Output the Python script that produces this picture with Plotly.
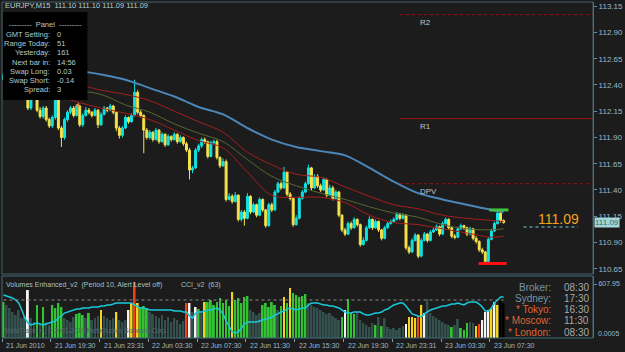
import plotly.graph_objects as go

# ---------------- data ----------------
symbol_title = "EURJPY,M15  111.10 111.10 111.09 111.09"
bars = list(range(165))

opens = [112.45, 112.50, 112.56, 112.45, 112.40, 112.47, 112.37, 112.33, 112.40, 112.18,
         112.28, 112.30, 112.16, 112.10, 112.18, 112.07, 112.01, 112.09, 112.26, 111.99,
         111.90, 112.07, 112.14, 112.18, 112.11, 112.20, 112.02, 112.11, 112.16, 112.14,
         112.11, 112.16, 112.02, 112.12, 112.18, 112.16, 112.20, 112.14, 111.99, 111.92,
         111.99, 112.09, 112.05, 112.11, 112.33, 112.14, 112.11, 111.97, 111.90, 111.95,
         111.88, 111.97, 111.86, 111.93, 111.83, 111.91, 111.88, 111.93, 111.86, 111.90,
         111.84, 111.78, 111.59, 111.61, 111.78, 111.82, 111.88, 111.86, 111.72, 111.85,
         111.86, 111.71, 111.63, 111.67, 111.31, 111.34, 111.29, 111.35, 111.12, 111.19,
         111.13, 111.34, 111.19, 111.26, 111.16, 111.31, 111.21, 111.06, 111.26, 111.21,
         111.38, 111.46, 111.42, 111.57, 111.36, 111.32, 111.07, 111.13, 111.32, 111.38,
         111.46, 111.61, 111.42, 111.53, 111.44, 111.40, 111.50, 111.35, 111.42, 111.32,
         111.38, 111.16, 111.02, 110.98, 111.08, 111.04, 111.12, 111.07, 110.88, 110.92,
         111.04, 111.12, 111.04, 111.10, 111.02, 110.94, 111.04, 111.08, 111.10, 111.12,
         111.17, 111.13, 111.16, 110.85, 110.81, 110.92, 110.97, 110.77, 110.92, 110.98,
         110.92, 111.00, 111.02, 111.05, 110.98, 111.08, 111.12, 111.04, 110.96, 110.95,
         111.03, 111.06, 111.04, 110.98, 111.03, 110.94, 110.91, 110.83, 110.81, 110.72,
         110.93, 111.01, 111.08, 111.18, 111.11]

highs = [112.53, 112.58, 112.57, 112.47, 112.49, 112.48, 112.40, 112.42, 112.41, 112.31,
         112.33, 112.31, 112.19, 112.20, 112.20, 112.09, 112.11, 112.28, 112.27, 112.01,
         112.09, 112.16, 112.20, 112.20, 112.22, 112.21, 112.13, 112.19, 112.18, 112.15,
         112.18, 112.17, 112.14, 112.20, 112.19, 112.22, 112.21, 112.15, 112.01, 112.01,
         112.11, 112.10, 112.13, 112.45, 112.35, 112.16, 112.12, 111.99, 111.97, 111.96,
         111.99, 111.98, 111.95, 111.94, 111.93, 111.92, 111.95, 111.94, 111.92, 111.91,
         111.86, 111.80, 111.63, 111.80, 111.84, 111.90, 111.90, 111.87, 111.87, 111.88,
         111.88, 111.72, 111.70, 111.69, 111.37, 111.36, 111.38, 111.36, 111.21, 111.21,
         111.37, 111.35, 111.28, 111.27, 111.33, 111.32, 111.22, 111.28, 111.28, 111.40,
         111.48, 111.48, 111.62, 111.58, 111.38, 111.33, 111.16, 111.34, 111.40, 111.48,
         111.64, 111.62, 111.55, 111.55, 111.46, 111.52, 111.51, 111.45, 111.44, 111.40,
         111.39, 111.17, 111.04, 111.10, 111.10, 111.14, 111.13, 111.08, 110.95, 111.06,
         111.15, 111.13, 111.12, 111.11, 111.03, 111.06, 111.10, 111.12, 111.14, 111.19,
         111.18, 111.18, 111.17, 110.87, 110.94, 110.99, 110.98, 110.94, 111.00, 110.99,
         111.02, 111.04, 111.07, 111.06, 111.10, 111.14, 111.13, 111.05, 110.98, 111.05,
         111.08, 111.07, 111.05, 111.05, 111.04, 110.96, 110.92, 110.85, 110.82, 110.95,
         111.03, 111.10, 111.21, 111.19, 111.12]

lows = [112.43, 112.48, 112.43, 112.38, 112.39, 112.35, 112.31, 112.32, 112.16, 112.16,
        112.26, 112.14, 112.08, 112.08, 112.05, 111.99, 111.99, 112.07, 111.97, 111.81,
        111.88, 112.05, 112.12, 112.09, 112.10, 112.00, 112.00, 112.10, 112.12, 112.09,
        112.10, 111.99, 112.01, 112.11, 112.14, 112.15, 112.12, 111.96, 111.89, 111.90,
        111.98, 112.03, 112.04, 112.10, 112.12, 112.09, 111.75, 111.88, 111.88, 111.86,
        111.87, 111.84, 111.85, 111.81, 111.82, 111.86, 111.87, 111.84, 111.85, 111.82,
        111.76, 111.50, 111.56, 111.60, 111.76, 111.80, 111.84, 111.70, 111.71, 111.83,
        111.69, 111.61, 111.62, 111.29, 111.30, 111.27, 111.28, 111.10, 111.10, 111.06,
        111.12, 111.17, 111.18, 111.14, 111.15, 111.19, 111.04, 111.05, 111.19, 111.20,
        111.37, 111.40, 111.41, 111.34, 111.30, 111.05, 111.06, 111.12, 111.31, 111.37,
        111.45, 111.40, 111.41, 111.42, 111.38, 111.39, 111.33, 111.34, 111.30, 111.31,
        111.14, 111.00, 110.96, 110.97, 111.02, 111.03, 111.05, 110.86, 110.87, 110.91,
        111.03, 111.02, 111.03, 111.00, 110.92, 110.93, 111.03, 111.07, 111.09, 111.11,
        111.11, 111.12, 110.83, 110.79, 110.80, 110.91, 110.75, 110.76, 110.91, 110.90,
        110.91, 110.99, 111.01, 110.96, 110.97, 111.07, 111.02, 110.94, 110.93, 110.94,
        111.02, 111.02, 110.96, 110.97, 110.92, 110.89, 110.81, 110.79, 110.71, 110.70,
        110.92, 111.00, 111.07, 111.09, 111.08]

closes = [112.50, 112.56, 112.45, 112.40, 112.47, 112.37, 112.33, 112.40, 112.18, 112.28,
          112.30, 112.16, 112.10, 112.18, 112.07, 112.01, 112.09, 112.26, 111.99, 111.90,
          112.07, 112.14, 112.18, 112.11, 112.20, 112.02, 112.11, 112.16, 112.14, 112.11,
          112.16, 112.02, 112.12, 112.18, 112.16, 112.20, 112.14, 111.99, 111.92, 111.99,
          112.09, 112.05, 112.11, 112.33, 112.14, 112.11, 111.97, 111.90, 111.95, 111.88,
          111.97, 111.86, 111.93, 111.83, 111.91, 111.88, 111.93, 111.86, 111.90, 111.84,
          111.78, 111.59, 111.61, 111.78, 111.82, 111.88, 111.86, 111.72, 111.85, 111.86,
          111.71, 111.63, 111.67, 111.31, 111.34, 111.29, 111.35, 111.12, 111.19, 111.13,
          111.34, 111.19, 111.26, 111.16, 111.31, 111.21, 111.06, 111.26, 111.21, 111.38,
          111.46, 111.42, 111.57, 111.36, 111.32, 111.07, 111.13, 111.32, 111.38, 111.46,
          111.61, 111.42, 111.53, 111.44, 111.40, 111.50, 111.35, 111.42, 111.32, 111.38,
          111.16, 111.02, 110.98, 111.08, 111.04, 111.12, 111.07, 110.88, 110.92, 111.04,
          111.12, 111.04, 111.10, 111.02, 110.94, 111.04, 111.08, 111.10, 111.12, 111.17,
          111.13, 111.16, 110.85, 110.81, 110.92, 110.97, 110.77, 110.92, 110.98, 110.92,
          111.00, 111.02, 111.05, 110.98, 111.08, 111.12, 111.04, 110.96, 110.95, 111.03,
          111.06, 111.04, 110.98, 111.03, 110.94, 110.91, 110.83, 110.81, 110.72, 110.93,
          111.01, 111.08, 111.18, 111.11, 111.09]

# moving averages (sampled every 8 bars)
ma_idx = [0, 8, 16, 24, 32, 40, 48, 56, 64, 72, 80, 88, 96, 104, 112, 120, 128, 136, 144, 152, 160, 164]
ma_blue = [112.72, 112.66, 112.60, 112.54, 112.50, 112.45, 112.37, 112.29, 112.19, 112.12, 111.99,
           111.88, 111.81, 111.77, 111.73, 111.61, 111.48, 111.37, 111.31, 111.26, 111.21, 111.19]
env_upper = [112.54, 112.50, 112.46, 112.41, 112.35, 112.31, 112.25, 112.15, 112.05, 111.95, 111.76,
             111.64, 111.55, 111.52, 111.43, 111.34, 111.26, 111.22, 111.16, 111.13, 111.11, 111.10]
env_mid = [112.47, 112.43, 112.39, 112.35, 112.31, 112.21, 112.14, 112.03, 111.94, 111.86, 111.69,
           111.53, 111.44, 111.37, 111.31, 111.24, 111.18, 111.14, 111.07, 111.03, 111.02, 111.03]
env_lower = [112.40, 112.35, 112.31, 112.24, 112.18, 112.13, 112.07, 111.97, 111.87, 111.80, 111.57,
             111.35, 111.33, 111.33, 111.28, 111.16, 111.09, 111.07, 111.03, 110.99, 110.95, 110.96]

# pivot levels
pivot_names = ["R2", "R1", "DPV"]
pivot_values = [113.07, 112.08, 111.46]
pivot_start = 130
day_high = 111.21
day_low = 110.70
last_price = 111.09

# volumes and colour class (g=grey, G=green, Y=yellow, W=white, R=red)
volumes = [405, 372, 338, 293, 259, 315, 225, 248, 540, 225,
           180, 372, 158, 349, 180, 146, 372, 338, 394, 349,
           225, 203, 180, 236, 270, 282, 259, 225, 282, 203,
           225, 248, 315, 248, 225, 203, 225, 293, 203, 180,
           203, 315, 394, 631, 394, 349, 360, 338, 293, 270,
           248, 225, 259, 203, 236, 180, 225, 203, 158, 191,
           394, 394, 293, 349, 327, 282, 405, 405, 428, 372,
           405, 450, 394, 428, 360, 518, 428, 450, 394, 462,
           473, 315, 293, 259, 282, 372, 394, 349, 405, 372,
           315, 360, 462, 394, 563, 507, 484, 462, 473, 495,
           394, 372, 349, 338, 315, 293, 270, 282, 248, 225,
           203, 236, 315, 439, 282, 270, 293, 203, 169, 146,
           124, 169, 146, 236, 135, 225, 124, 101, 113, 90,
           113, 135, 158, 236, 236, 225, 248, 372, 282, 439,
           282, 248, 225, 203, 180, 158, 146, 124, 146, 214,
           113, 90, 169, 180, 169, 135, 158, 203, 293, 315,
           338, 405, 372, 417, 394]
vol_class = ("GgggggggWg" "gGgGggGGGG" "ggggGGGgGg" "ggYggggYgg"
             "gWYRYGGGgg" "gggggggggg" "RWgWGgYGGG" "GGGGGYGGGG"
             "Ggggg" "GGGGGgGYGY" "GGGGG" "gggggggggg" "gGWGGGggg"
             "gggGgGgggg" "gggWYYYRYW" "ggggggggG" "ggGGGggYRW" "WWYWY")
cci = [139, 132, 124, 116, 100, 76, 21, -42, -81, -97,
       -89, -81, -89, -97, -89, -81, -74, -66, -42, -26,
       -3, 5, 13, 21, 29, 29, 37, 37, 37, 45,
       45, 45, 53, 53, 61, 61, 68, 76, 76, 76,
       76, 76, 76, 61, 45, 37, 37, 29, 21, 21,
       21, 21, 21, 21, 21, 21, 13, 13, 13, 5,
       5, -26, -42, -3, 5, 5, 13, 21, 21, 29,
       37, 21, -10, -66, -113, -152, -160, -152, -121, -89,
       -74, -74, -74, -74, -66, -58, -50, -42, -34, -18,
       -10, 5, 13, 29, 37, 29, 21, 29, 37, 37,
       61, 76, 76, 76, 68, 61, 61, 53, 53, 45,
       37, 21, 5, -3, -3, 5, 5, 5, -10, -18,
       -18, -10, -3, -3, 5, 21, 29, 45, 61, 68,
       76, 76, 53, 21, -10, -18, -26, -34, -10, 5,
       21, 29, 37, 45, 53, 53, 61, 68, 68, 76,
       68, 61, 76, 84, 84, 84, 68, 45, 13, 13,
       37, 76, 100, 124, 124]
cci_level = 100
vol_max_label = 607.95

price_ticks = [110.65, 110.90, 111.15, 111.40, 111.65, 111.90, 112.15, 112.40, 112.65, 112.90, 113.15]
time_idx = [0, 16, 32, 48, 64, 80, 96, 112, 128, 144, 160]
time_labels = ["21 Jun 2010", "21 Jun 19:30", "21 Jun 23:31", "22 Jun 03:30", "22 Jun 07:30",
               "22 Jun 11:30", "22 Jun 15:30", "22 Jun 19:30", "22 Jun 23:31", "23 Jun 03:30",
               "23 Jun 07:30"]

panel_labels = ["GMT Setting:", "Range Today:", "Yesterday:", "Next bar in:", "Swap Long:",
                "Swap Short:", "Spread:"]
panel_values = ["0", "51", "161", "14:56", "0.03", "-0.14", "3"]

clock_names = ["Broker:", "Sydney:", "* Tokyo:", "* Moscow:", "* London:"]
clock_times = ["08:30", "17:30", "16:30", "11:30", "08:30"]

# ---------------- layout helpers ----------------
W, H = 625, 352
ML, MR, MT, MB = 2, 28, 2, 14
PW = W - ML - MR
PH = H - MT - MB


def px(x):
    return (x - ML) / PW


def py(y):
    return (H - MB - y) / PH


BG = "#1c1c1c"
FONT = "Liberation Sans"
AXC = "#9db8c6"

vol_colors = {"g": "#33504f", "G": "#33c233", "Y": "#f5d31c", "W": "#f4f4f4", "R": "#f0401a"}

fig = go.Figure()

# moving averages / envelopes
for vals, col, w in [(env_upper, "#a31e1e", 1), (env_mid, "#56672e", 1),
                     (env_lower, "#a31e1e", 1), (ma_blue, "#4a86b8", 2)]:
    fig.add_trace(go.Scatter(x=ma_idx, y=vals, mode="lines", line=dict(color=col, width=w, shape="spline"),
                             xaxis="x", yaxis="y", hoverinfo="skip", showlegend=False))

fig.add_trace(go.Candlestick(
    x=bars, open=opens, high=highs, low=lows, close=closes,
    increasing=dict(line=dict(color="#10e4e4", width=1), fillcolor="#10e4e4"),
    decreasing=dict(line=dict(color="#f6e24c", width=1), fillcolor="#f6e24c"),
    whiskerwidth=0, xaxis="x", yaxis="y", hoverinfo="skip", showlegend=False))

# fractal marker
fig.add_trace(go.Scatter(x=[24.4], y=[highs[24] - 0.015], mode="markers",
                         marker=dict(symbol="triangle-left", size=5, color="#f08a30"),
                         xaxis="x", yaxis="y", hoverinfo="skip", showlegend=False))

fig.add_trace(go.Bar(x=bars, y=volumes, width=0.62,
                     marker=dict(color=[vol_colors[c] for c in vol_class], line=dict(width=0)),
                     xaxis="x", yaxis="y2", hoverinfo="skip", showlegend=False))

fig.add_trace(go.Scatter(x=bars, y=cci, mode="lines", line=dict(color="#18cada", width=1.5),
                         xaxis="x", yaxis="y3", hoverinfo="skip", showlegend=False))

shapes = []
# pivot lines
for name, val in zip(pivot_names, pivot_values):
    shapes.append(dict(type="line", xref="x", yref="y", x0=pivot_start, x1=193.3, y0=val, y1=val,
                       line=dict(color="#9a1010", width=1, dash="solid" if name == "R1" else "dot")))
# day high / low
shapes.append(dict(type="line", xref="x", yref="y", x0=159.3, x1=165.6, y0=day_high, y1=day_high,
                   line=dict(color="#3ec43e", width=3)))
shapes.append(dict(type="line", xref="x", yref="y", x0=155.8, x1=165.0, y0=day_low, y1=day_low,
                   line=dict(color="#ff1010", width=3)))
# cci level
shapes.append(dict(type="line", xref="x", yref="y3", x0=0, x1=164, y0=cci_level, y1=cci_level,
                   line=dict(color="#8c8c8c", width=1, dash="dot")))
# panel box
shapes.append(dict(type="rect", xref="paper", yref="paper", x0=px(3), x1=px(88), y0=py(100), y1=py(12),
                   fillcolor="#000000", line=dict(width=0), layer="above"))
# borders
shapes.append(dict(type="rect", xref="paper", yref="paper", x0=px(2), x1=px(597), y0=py(274), y1=py(2),
                   line=dict(color="#44606c", width=1)))
shapes.append(dict(type="rect", xref="paper", yref="paper", x0=px(2), x1=px(597), y0=py(338), y1=py(276),
                   line=dict(color="#3f6d7a", width=1)))
# underline of the big price
shapes.append(dict(type="line", xref="paper", yref="paper", x0=px(527), x1=px(582), y0=py(227), y1=py(227),
                   line=dict(color="#7ec8e3", width=1, dash="dot")))

ann = []
ann.append(dict(text=symbol_title, x=px(3), y=py(6), xref="paper", yref="paper", xanchor="left",
                yanchor="middle", showarrow=False, font=dict(family=FONT, size=7.5, color="#b8d0d0")))
ann.append(dict(text="---------  Panel  ---------", x=px(46), y=py(25), xref="paper", yref="paper",
                xanchor="center", yanchor="middle", showarrow=False,
                font=dict(family=FONT, size=7.5, color="#b4caca")))
rows = [34, 43.3, 52.7, 62, 71, 80.3, 89.7]
for lab, val, r in zip(panel_labels, panel_values, rows):
    ann.append(dict(text=lab, x=px(52), y=py(r), xref="paper", yref="paper", xanchor="right",
                    yanchor="middle", showarrow=False, font=dict(family=FONT, size=7.5, color="#b4caca")))
    ann.append(dict(text=val, x=px(55), y=py(r), xref="paper", yref="paper", xanchor="left",
                    yanchor="middle", showarrow=False, font=dict(family=FONT, size=7.5, color="#b4caca")))
# pivot labels
for name, val in zip(pivot_names, pivot_values):
    ann.append(dict(text=name, x=px(421), y=val, xref="paper", yref="y", xanchor="left",
                    yanchor="top", yshift=-1, showarrow=False,
                    font=dict(family=FONT, size=8, color="#c4c4c4")))
# big price label
ann.append(dict(text="%.2f" % last_price, x=px(540), y=py(219), xref="paper", yref="paper",
                xanchor="left", yanchor="middle", showarrow=False,
                font=dict(family=FONT, size=14, color="#f3a21c")))
# right axis current price box
ann.append(dict(text="%.2f" % last_price, x=1, y=last_price, xref="paper", yref="y", xanchor="left",
                yanchor="middle", xshift=1, showarrow=False, bgcolor="#a4d8d8", borderpad=0,
                font=dict(family=FONT, size=8, color="#2a6a6a")))
# sub window texts
ann.append(dict(text="Volumes Enhanced_v2  (Period 10, Alert Level off)", x=px(4), y=py(285),
                xref="paper", yref="paper", xanchor="left", yanchor="middle", showarrow=False,
                font=dict(family=FONT, size=7, color="#a9c0c0")))
ann.append(dict(text="CCI_v2  (63)", x=px(180), y=py(285), xref="paper", yref="paper", xanchor="left",
                yanchor="middle", showarrow=False, font=dict(family=FONT, size=7, color="#a9c0c0")))
ann.append(dict(text="MetaTrader 4, \u00a9 2001-2010 MetaQuotes Software Corp.", x=px(3), y=py(331),
                xref="paper", yref="paper", xanchor="left", yanchor="middle", showarrow=False,
                font=dict(family=FONT, size=6.5, color="#56686a")))
ann.append(dict(text="0.0005", x=1, y=py(333), xref="paper", yref="paper", xanchor="left",
                yanchor="middle", xshift=3, showarrow=False, font=dict(family=FONT, size=7, color=AXC)))
# clocks
crow = [287, 298, 309, 320, 332]
for nm, tm, r in zip(clock_names, clock_times, crow):
    col = "#7893a6" if not nm.startswith("*") else "#de6436"
    ann.append(dict(text=nm, x=px(557), y=py(r), xref="paper", yref="paper", xanchor="right",
                    yanchor="middle", showarrow=False, font=dict(family=FONT, size=10, color=col)))
    ann.append(dict(text=tm, x=px(566), y=py(r), xref="paper", yref="paper", xanchor="left",
                    yanchor="middle", showarrow=False, font=dict(family=FONT, size=10, color="#a8a8a8")))
# time labels
for t, lab in zip(time_idx, time_labels):
    ann.append(dict(text=lab, x=max(t - 0.5, -0.45), y=py(345.5), xref="x", yref="paper", xanchor="left",
                    yanchor="middle", xshift=2, showarrow=False,
                    font=dict(family=FONT, size=7, color=AXC)))

fig.update_layout(
    width=W, height=H, margin=dict(l=ML, r=MR, t=MT, b=MB),
    paper_bgcolor=BG, plot_bgcolor=BG, showlegend=False,
    boxgap=0.2, boxgroupgap=0.2,
    xaxis=dict(range=[-0.49, 193.32], anchor="y2", showgrid=False, zeroline=False,
               showticklabels=False, ticks="outside", ticklen=3, tickcolor="#7f9fb0",
               tickvals=[max(t - 0.5, -0.45) for t in time_idx], rangeslider=dict(visible=False)),
    yaxis=dict(domain=[py(274), 1], range=[110.60, 113.19], side="right", anchor="x",
               showgrid=False, zeroline=False, tickvals=price_ticks,
               ticktext=["%.2f" % v for v in price_ticks], ticks="outside", ticklen=3,
               tickcolor="#5f8d9d", tickfont=dict(family=FONT, size=8, color=AXC),
               showline=True, linecolor="#4f8191", linewidth=1),
    yaxis2=dict(domain=[0, py(276)], range=[0, 698], side="right", anchor="x", showgrid=False,
                zeroline=False, tickvals=[vol_max_label], ticktext=["%.2f" % vol_max_label],
                ticks="outside", ticklen=3, tickcolor="#5f8d9d",
                tickfont=dict(family=FONT, size=7, color=AXC),
                showline=True, linecolor="#4f8191", linewidth=1),
    yaxis3=dict(overlaying="y2", range=[-200, 289.4], visible=False),
    shapes=shapes, annotations=ann,
)

fig.write_html("out.html")
